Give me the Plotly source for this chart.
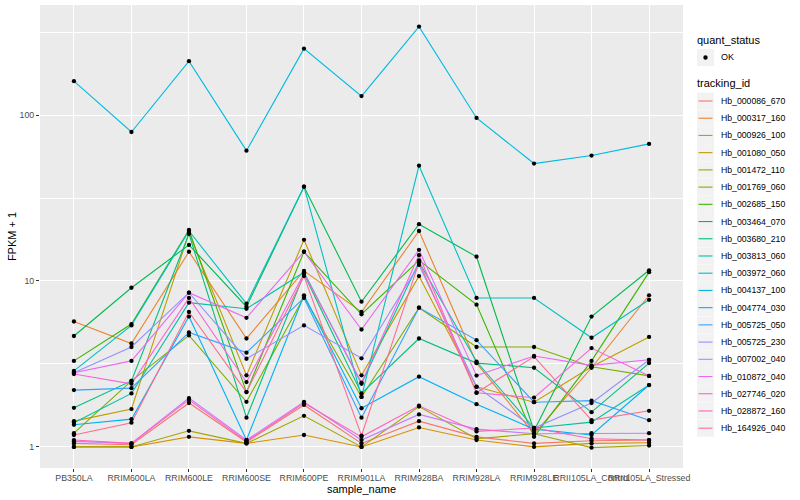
import plotly.graph_objects as go

samples = ["PB350LA", "RRIM600LA", "RRIM600LE", "RRIM600SE", "RRIM600PE", "RRIM901LA",
           "RRIM928BA", "RRIM928LA", "RRIM928LE", "RRII105LA_Control", "RRII105LA_Stressed"]

tracking_ids = ["Hb_000086_670", "Hb_000317_160", "Hb_000926_100", "Hb_001080_050", "Hb_001472_110",
                "Hb_001769_060", "Hb_002685_150", "Hb_003464_070", "Hb_003680_210", "Hb_003813_060",
                "Hb_003972_060", "Hb_004137_100", "Hb_004774_030", "Hb_005725_050", "Hb_005725_230",
                "Hb_007002_040", "Hb_010872_040", "Hb_027746_020", "Hb_028872_160", "Hb_164926_040"]

colors = ["#F8766D", "#EA8331", "#D89000", "#C09B00", "#A3A500", "#7CAE00", "#39B600", "#00BB4E",
          "#00BF7D", "#00C1A3", "#00BFC4", "#00BAE0", "#00B0F6", "#35A2FF", "#9590FF", "#C77CFF",
          "#E76BF3", "#FA62DB", "#FF62BC", "#FF6C91"]

quant_status = ["OK"]

# FPKM + 1 per sample, one list per tracking_id
hb_000086_670 = [1.05, 1.03, 1.84, 1.07, 1.79, 1.05, 1.43, 1.15, 1.05, 1.09, 1.10]
hb_000317_160 = [5.7, 4.2, 15.0, 4.5, 11.5, 6.5, 20.0, 3.2, 1.2, 3.0, 8.2]
hb_000926_100 = [1.00, 1.00, 1.15, 1.05, 1.18, 1.00, 1.31, 1.10, 1.00, 1.05, 1.06]
hb_001080_050 = [1.43, 1.69, 19.5, 2.7, 17.7, 2.7, 10.7, 2.3, 1.86, 3.04, 4.6]
hb_001472_110 = [1.00, 1.00, 1.25, 1.05, 1.54, 1.00, 1.75, 1.12, 1.20, 0.99, 1.02]
hb_001769_060 = [1.21, 2.5, 4.7, 1.87, 8.0, 2.0, 6.9, 4.0, 4.0, 3.04, 2.68]
hb_002685_150 = [3.3, 5.5, 20.3, 2.14, 15.0, 6.3, 13.3, 7.2, 1.15, 3.3, 11.3]
hb_003464_070 = [4.66, 9.1, 16.5, 7.0, 37.0, 7.5, 22.0, 14.0, 1.25, 6.1, 11.6]
hb_003680_210 = [1.72, 2.5, 19.2, 1.5, 11.0, 2.1, 4.5, 3.2, 3.0, 1.62, 3.2]
hb_003813_060 = [1.4, 2.1, 7.4, 6.8, 11.3, 2.4, 13.0, 3.27, 1.3, 1.41, 2.36]
hb_003972_060 = [2.87, 5.4, 20.0, 7.3, 37.0, 2.0, 49.5, 7.9, 7.9, 4.55, 7.7]
hb_004137_100 = [160, 79, 211, 61, 251, 130, 341, 96, 51, 57, 67]
hb_004774_030 = [1.36, 1.47, 6.1, 1.1, 8.2, 1.71, 2.65, 1.81, 1.28, 1.18, 2.36]
hb_005725_050 = [2.2, 2.26, 4.9, 3.7, 7.9, 1.5, 6.9, 4.4, 1.86, 1.9, 1.45]
hb_005725_230 = [2.8, 4.0, 8.5, 3.4, 5.4, 3.42, 12.5, 2.31, 1.3, 1.84, 3.34]
hb_007002_040 = [1.08, 1.05, 1.97, 1.10, 1.87, 1.10, 1.57, 1.28, 1.20, 1.21, 1.21]
hb_010872_040 = [2.8, 3.3, 8.5, 6.0, 15.0, 5.1, 15.4, 2.69, 3.53, 3.1, 3.35]
hb_027746_020 = [2.75, 2.4, 7.9, 2.46, 11.1, 2.44, 14.3, 2.12, 1.98, 3.94, 2.68]
hb_028872_160 = [1.10, 1.05, 1.92, 1.08, 1.84, 1.15, 1.77, 1.24, 1.30, 1.12, 1.10]
hb_164926_040 = [1.18, 1.4, 6.5, 2.14, 10.7, 1.17, 13.0, 2.12, 3.5, 1.45, 1.65]

series = [hb_000086_670, hb_000317_160, hb_000926_100, hb_001080_050, hb_001472_110,
          hb_001769_060, hb_002685_150, hb_003464_070, hb_003680_210, hb_003813_060,
          hb_003972_060, hb_004137_100, hb_004774_030, hb_005725_050, hb_005725_230,
          hb_007002_040, hb_010872_040, hb_027746_020, hb_028872_160, hb_164926_040]

FONT = "Liberation Sans, Arial, sans-serif"
W, H = 800, 500
ML, MR, MT, MB = 40, 117, 5, 32
PW, PH = W - ML - MR, H - MT - MB

fig = go.Figure()

for tid, col, vals in zip(tracking_ids, colors, series):
    fig.add_trace(go.Scatter(
        x=samples, y=vals, mode="lines", name=tid,
        line=dict(color=col, width=1.1), showlegend=False, hoverinfo="skip",
    ))

all_x, all_y = [], []
for vals in series:
    all_x += samples
    all_y += vals
fig.add_trace(go.Scatter(
    x=all_x, y=all_y, mode="markers", name=quant_status[0],
    marker=dict(color="black", size=4.3), showlegend=False,
))

# ---- ggplot-style legend drawn in paper coordinates ----
def px(xpix):
    return (xpix - ML) / PW

def py(ypix):
    return (H - MB - ypix) / PH

shapes, annots = [], []
KX0, KX1 = 697, 714
TX = 719

def key_box(cy):
    shapes.append(dict(type="rect", xref="paper", yref="paper",
                       x0=px(KX0), x1=px(KX1), y0=py(cy + 8.5), y1=py(cy - 8.5),
                       fillcolor="#F2F2F2", line=dict(width=0), layer="above"))

def label(text, x, cy, size, color="black"):
    annots.append(dict(text=text, xref="paper", yref="paper", x=px(x), y=py(cy),
                       xanchor="left", yanchor="middle", showarrow=False,
                       font=dict(size=size, color=color, family=FONT)))

label("quant_status", 695, 40, 11)
key_box(57.5)
shapes.append(dict(type="circle", xref="paper", yref="paper",
                   x0=px(705.5 - 2.2), x1=px(705.5 + 2.2), y0=py(57.5 + 2.2), y1=py(57.5 - 2.2),
                   fillcolor="black", line=dict(width=0), layer="above"))
label(quant_status[0], TX, 57.5, 9)

label("tracking_id", 695, 83, 11)
y0, dy = 101, 17.22
for i, (tid, col) in enumerate(zip(tracking_ids, colors)):
    cy = y0 + i * dy
    key_box(cy)
    shapes.append(dict(type="line", xref="paper", yref="paper",
                       x0=px(KX0 + 1.5), x1=px(KX1 - 1.5), y0=py(cy), y1=py(cy),
                       line=dict(color=col, width=1.1), layer="above"))
    label(tid, TX, cy, 8.7)

fig.update_layout(
    width=W, height=H,
    margin=dict(l=ML, r=MR, t=MT, b=MB, autoexpand=False),
    paper_bgcolor="white",
    plot_bgcolor="#EBEBEB",
    font=dict(family=FONT, size=9, color="#4D4D4D"),
    showlegend=False,
    shapes=shapes,
    annotations=annots,
)

fig.update_xaxes(
    type="category", categoryorder="array", categoryarray=samples,
    range=[-0.59, 10.59],
    showgrid=True, gridcolor="white", gridwidth=1.1,
    zeroline=False, showline=False,
    ticks="outside", ticklen=3, tickcolor="#333333", tickwidth=1,
    tickangle=0, automargin=False, ticklabelstandoff=-2,
    tickfont=dict(size=8.8, color="#4D4D4D"),
    title=dict(text="sample_name", font=dict(size=11, color="black"), standoff=0),
)

fig.update_yaxes(
    type="log",
    range=[-0.127, 2.663],
    tickvals=[1, 10, 100], ticktext=["1", "10", "100"],
    showgrid=True, gridcolor="white", gridwidth=1.1,
    minor=dict(tickvals=[10 ** 0.5, 10 ** 1.5, 10 ** 2.5], showgrid=True,
               gridcolor="white", gridwidth=0.5, ticklen=0),
    zeroline=False, showline=False, automargin=False,
    ticks="outside", ticklen=3, tickcolor="#333333", tickwidth=1,
    tickfont=dict(size=8.8, color="#4D4D4D"),
    title=dict(text="FPKM + 1", font=dict(size=11, color="black"), standoff=0),
)

fig.write_html("out.html", config={"displayModeBar": False},
               post_script="document.body.style.margin='0px';")
